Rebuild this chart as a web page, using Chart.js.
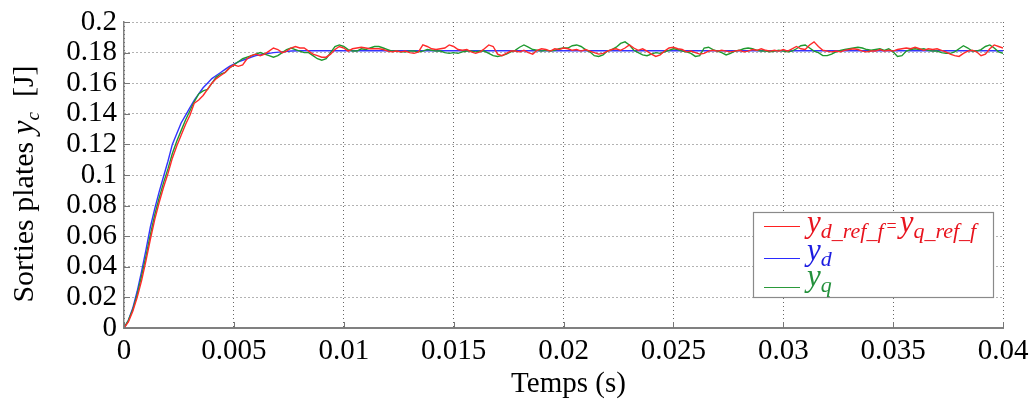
<!DOCTYPE html>
<html><head><meta charset="utf-8">
<script src="https://cdn.jsdelivr.net/npm/chart.js@4"></script>
<style>html,body{margin:0;padding:0;background:#fff;overflow:hidden}#wrap{width:1033px;height:405px;position:relative}</style>
</head><body><div id="wrap"><canvas id="c" width="1033" height="405"></canvas></div>
<script>
// ---------- data ----------
const SAMPLE_PERIOD = 0.0002; // s, sampling grid for y_ref and y_q
const yRefValues = [
0,0.004,0.011,0.020,0.031,0.044,0.058,0.071,0.082,0.092,
0.101,0.111,0.119,0.126,0.133,0.139,0.147,0.149,0.152,0.156,
0.160,0.163,0.165,0.167,0.170,0.172,0.171,0.172,0.176,0.178,
0.179,0.178,0.179,0.181,0.183,0.182,0.180,0.181,0.183,0.184,
0.183,0.183,0.181,0.179,0.178,0.177,0.177,0.179,0.182,0.184,
0.183,0.181,0.1825,0.183,0.1835,0.183,0.1825,0.1825,0.1825,0.182,
0.181,0.1805,0.181,0.1805,0.181,0.180,0.1795,0.1805,0.185,0.184,
0.1825,0.182,0.1825,0.183,0.185,0.184,0.182,0.1815,0.182,0.1805,
0.1795,0.1805,0.1825,0.185,0.184,0.179,0.178,0.1795,0.181,0.181,
0.1805,0.1815,0.180,0.179,0.1815,0.1825,0.182,0.181,0.1825,0.182,
0.183,0.1825,0.1815,0.182,0.181,0.182,0.181,0.180,0.179,0.1795,
0.181,0.182,0.1825,0.1815,0.183,0.185,0.183,0.1815,0.1825,0.181,
0.179,0.1775,0.1785,0.181,0.183,0.1835,0.1825,0.182,0.1805,0.181,
0.180,0.179,0.1795,0.181,0.1815,0.181,0.1815,0.181,0.1805,0.181,
0.1815,0.1805,0.181,0.182,0.1815,0.1825,0.1815,0.181,0.1815,0.181,
0.182,0.181,0.1825,0.184,0.1825,0.182,0.185,0.187,0.184,0.1815,
0.181,0.1805,0.181,0.1805,0.1815,0.182,0.1825,0.182,0.181,0.1805,
0.181,0.181,0.182,0.181,0.1815,0.181,0.182,0.1825,0.183,0.1825,
0.1835,0.1825,0.1815,0.1825,0.182,0.1825,0.1815,0.1805,0.179,0.178,
0.1775,0.1795,0.181,0.1815,0.1805,0.178,0.179,0.1825,0.185,0.184,
0.183];
const yqValues = [
0,0.005,0.012,0.022,0.034,0.047,0.061,0.074,0.085,0.095,
0.104,0.114,0.122,0.129,0.136,0.142,0.148,0.153,0.155,0.156,
0.160,0.164,0.166,0.167,0.170,0.172,0.174,0.176,0.177,0.178,
0.179,0.180,0.179,0.178,0.177,0.178,0.180,0.182,0.183,0.182,
0.181,0.180,0.180,0.178,0.176,0.175,0.176,0.180,0.184,0.185,
0.184,0.182,0.181,0.181,0.1825,0.182,0.183,0.184,0.184,0.183,
0.182,0.181,0.181,0.1805,0.1805,0.181,0.181,0.1805,0.181,0.182,
0.1815,0.181,0.181,0.180,0.1795,0.180,0.1795,0.1805,0.181,0.181,
0.1805,0.181,0.181,0.1795,0.178,0.1775,0.178,0.179,0.1805,0.1815,
0.1835,0.185,0.1835,0.182,0.1815,0.181,0.1815,0.181,0.1815,0.1825,
0.183,0.183,0.1845,0.185,0.184,0.182,0.1805,0.178,0.1775,0.1785,
0.181,0.182,0.1835,0.186,0.187,0.185,0.1815,0.180,0.1785,0.178,
0.179,0.180,0.1795,0.1805,0.1815,0.1825,0.182,0.181,0.1805,0.1795,
0.1775,0.178,0.183,0.1835,0.182,0.181,0.180,0.1785,0.1795,0.181,
0.1815,0.1825,0.183,0.1825,0.1815,0.181,0.181,0.1805,0.181,0.1815,
0.181,0.1805,0.181,0.1825,0.1845,0.185,0.183,0.181,0.180,0.178,
0.178,0.179,0.1805,0.1815,0.182,0.1825,0.183,0.1835,0.183,0.182,
0.1815,0.182,0.1825,0.1815,0.1825,0.1805,0.1775,0.178,0.181,0.182,
0.1825,0.182,0.1825,0.1815,0.181,0.181,0.180,0.1795,0.1795,0.1805,
0.1825,0.1845,0.183,0.181,0.181,0.182,0.184,0.185,0.183,0.1805,
0.1795];
const ydTimes = [0,0.0002,0.0004,0.0006,0.0008,0.001,0.0012,0.0014,0.0016,0.0018,
0.002,0.0022,0.0024,0.0026,0.0028,0.003,0.0032,0.0034,0.0036,0.0038,
0.004,0.0042,0.0044,0.0046,0.0048,0.005,0.0052,0.0054,0.0056,0.0058,
0.006,0.0064,0.0068,0.0072,0.0076,0.008,0.04];
const ydValues = [0,0.005,0.013,0.024,0.037,0.051,0.066,0.078,0.089,0.099,
0.109,0.120,0.127,0.134,0.139,0.144,0.149,0.153,0.157,0.160,
0.163,0.165,0.167,0.169,0.171,0.1725,0.174,0.175,0.176,0.177,
0.178,0.179,0.180,0.1805,0.181,0.1812,0.1812];
const xTickValues = [0,0.005,0.01,0.015,0.02,0.025,0.03,0.035,0.04];
const yTickValues = [0,0.02,0.04,0.06,0.08,0.1,0.12,0.14,0.16,0.18,0.2];
const xTitle = 'Temps (s)';
const yTitleParts = ['Sorties plates ', 'y', 'c', '  [J]'];
const legendItems = [
  {color:'#ff2020', text:'#e8141e', parts:[['y','main'],['d_ref_f','sub'],['=','eq'],['y','main'],['q_ref_f','sub']]},
  {color:'#2a2aff', text:'#1c1ce0', parts:[['y','main'],['d','sub']]},
  {color:'#2a9a3a', text:'#23903c', parts:[['y','main'],['q','sub']]}
];

// ---------- build ----------
const FONT = '"Liberation Serif", "Times New Roman", serif';
const toXY = (ts, vs) => vs.map((v,i)=>({x: ts[i], y: v}));
const sampleTimes = yRefValues.map((_,i)=> +(i*SAMPLE_PERIOD).toFixed(4));
const fmt = v => String(+v.toFixed(4));

const overlay = {
  id:'overlay',
  afterDatasetsDraw(chart){
    const {ctx, chartArea:a, scales:{x,y}} = chart;
    ctx.save();
    ctx.strokeStyle = '#777'; ctx.lineWidth = 1;
    xTickValues.forEach(v=>{const px=Math.round(x.getPixelForValue(v))+0.5; ctx.beginPath(); ctx.moveTo(px,a.bottom); ctx.lineTo(px,a.bottom-6); ctx.stroke();});
    yTickValues.forEach(v=>{const py=Math.round(y.getPixelForValue(v))+0.5; ctx.beginPath(); ctx.moveTo(a.left,py); ctx.lineTo(a.left+6,py); ctx.stroke();});
    ctx.restore();
  },
  afterDraw(chart){
    const {ctx, chartArea:a} = chart;
    ctx.save();
    ctx.fillStyle = '#000'; ctx.font = '29px '+FONT; ctx.textAlign='center'; ctx.textBaseline='alphabetic';
    ctx.fillText(xTitle, (a.left+a.right)/2+5, 392);
    ctx.translate(33, 184); ctx.rotate(-Math.PI/2);
    const fonts = ['30px '+FONT, 'italic 31px '+FONT, 'italic 19px '+FONT, '30px '+FONT];
    const offs = [0,0,6,0];
    let w = 0; yTitleParts.forEach((t,i)=>{ctx.font=fonts[i]; w+=ctx.measureText(t).width;});
    let cx = -w/2; ctx.textAlign='left';
    yTitleParts.forEach((t,i)=>{ctx.font=fonts[i]; ctx.fillText(t,cx,offs[i]); cx+=ctx.measureText(t).width;});
    ctx.restore();
    ctx.save();
    const L=753, T=212, R=993, B=297;
    ctx.fillStyle='#fff'; ctx.fillRect(L,T,R-L,B-T);
    ctx.strokeStyle='#8a8a8a'; ctx.lineWidth=1.2; ctx.strokeRect(L+0.5,T+0.5,R-L,B-T);
    const rows=[{ly:226,by:232},{ly:258,by:260},{ly:287,by:286}];
    legendItems.forEach((it,i)=>{
      const r=rows[i];
      ctx.strokeStyle=it.color; ctx.lineWidth=1; ctx.beginPath(); ctx.moveTo(764,r.ly+0.5); ctx.lineTo(800,r.ly+0.5); ctx.stroke();
      let px=807; ctx.fillStyle=it.text; ctx.textAlign='left'; ctx.textBaseline='alphabetic';
      it.parts.forEach(([t,k])=>{
        if(k==='main'){ctx.font='italic 31px '+FONT; ctx.fillText(t,px,r.by); px+=ctx.measureText(t).width;}
        else if(k==='sub'){ctx.font='italic 22px '+FONT; ctx.fillText(t,px,r.by+6); px+=ctx.measureText(t).width;}
        else {ctx.font='18px '+FONT; px+=3; ctx.fillText(t,px,r.by); px+=ctx.measureText(t).width+3;}
      });
    });
    ctx.restore();
  }
};

new Chart(document.getElementById('c'), {
  type:'line',
  data:{datasets:[
    {label:'y_d_ref_f = y_q_ref_f', data: toXY(sampleTimes, yRefValues), borderColor:'#ff2a2a', borderWidth:1.4, tension:0, pointRadius:0, order:0},
    {label:'y_q', data: toXY(sampleTimes, yqValues), borderColor:'#1f9a2f', borderWidth:1.4, tension:0, pointRadius:0, order:1},
    {label:'y_d', data: toXY(ydTimes, ydValues), borderColor:'#3333ff', borderWidth:1.4, tension:0, pointRadius:0, order:2}
  ]},
  options:{
    responsive:false, animation:false, devicePixelRatio:1,
    layout:{padding:{left:0,top:22,right:30,bottom:0}},
    plugins:{legend:{display:false}, tooltip:{enabled:false}},
    scales:{
      x:{type:'linear', min:0, max:0.04,
        afterBuildTicks: s => { s.ticks = xTickValues.map(v=>({value:v})); },
        afterFit: s => { s.height = 77; s.paddingLeft = 0; s.paddingRight = 0; },
        ticks:{callback: v=>fmt(v), color:'#000', font:{family:FONT, size:29}, padding:6, maxRotation:0, autoSkip:false},
        grid:{color:'#666', lineWidth:1, drawTicks:false},
        border:{display:true, color:'#808080', width:2, dash:[1,3]}
      },
      y:{type:'linear', min:0, max:0.2,
        afterBuildTicks: s => { s.ticks = yTickValues.map(v=>({value:v})); },
        afterFit: s => { s.width = 124; s.paddingTop = 0; s.paddingBottom = 0; },
        ticks:{callback: v=>fmt(v), color:'#000', font:{family:FONT, size:29}, padding:7, autoSkip:false},
        grid:{color:'#666', lineWidth:1, drawTicks:false},
        border:{display:true, color:'#808080', width:1.5, dash:[1,3]}
      }
    }
  },
  plugins:[overlay]
});
</script></body></html>
